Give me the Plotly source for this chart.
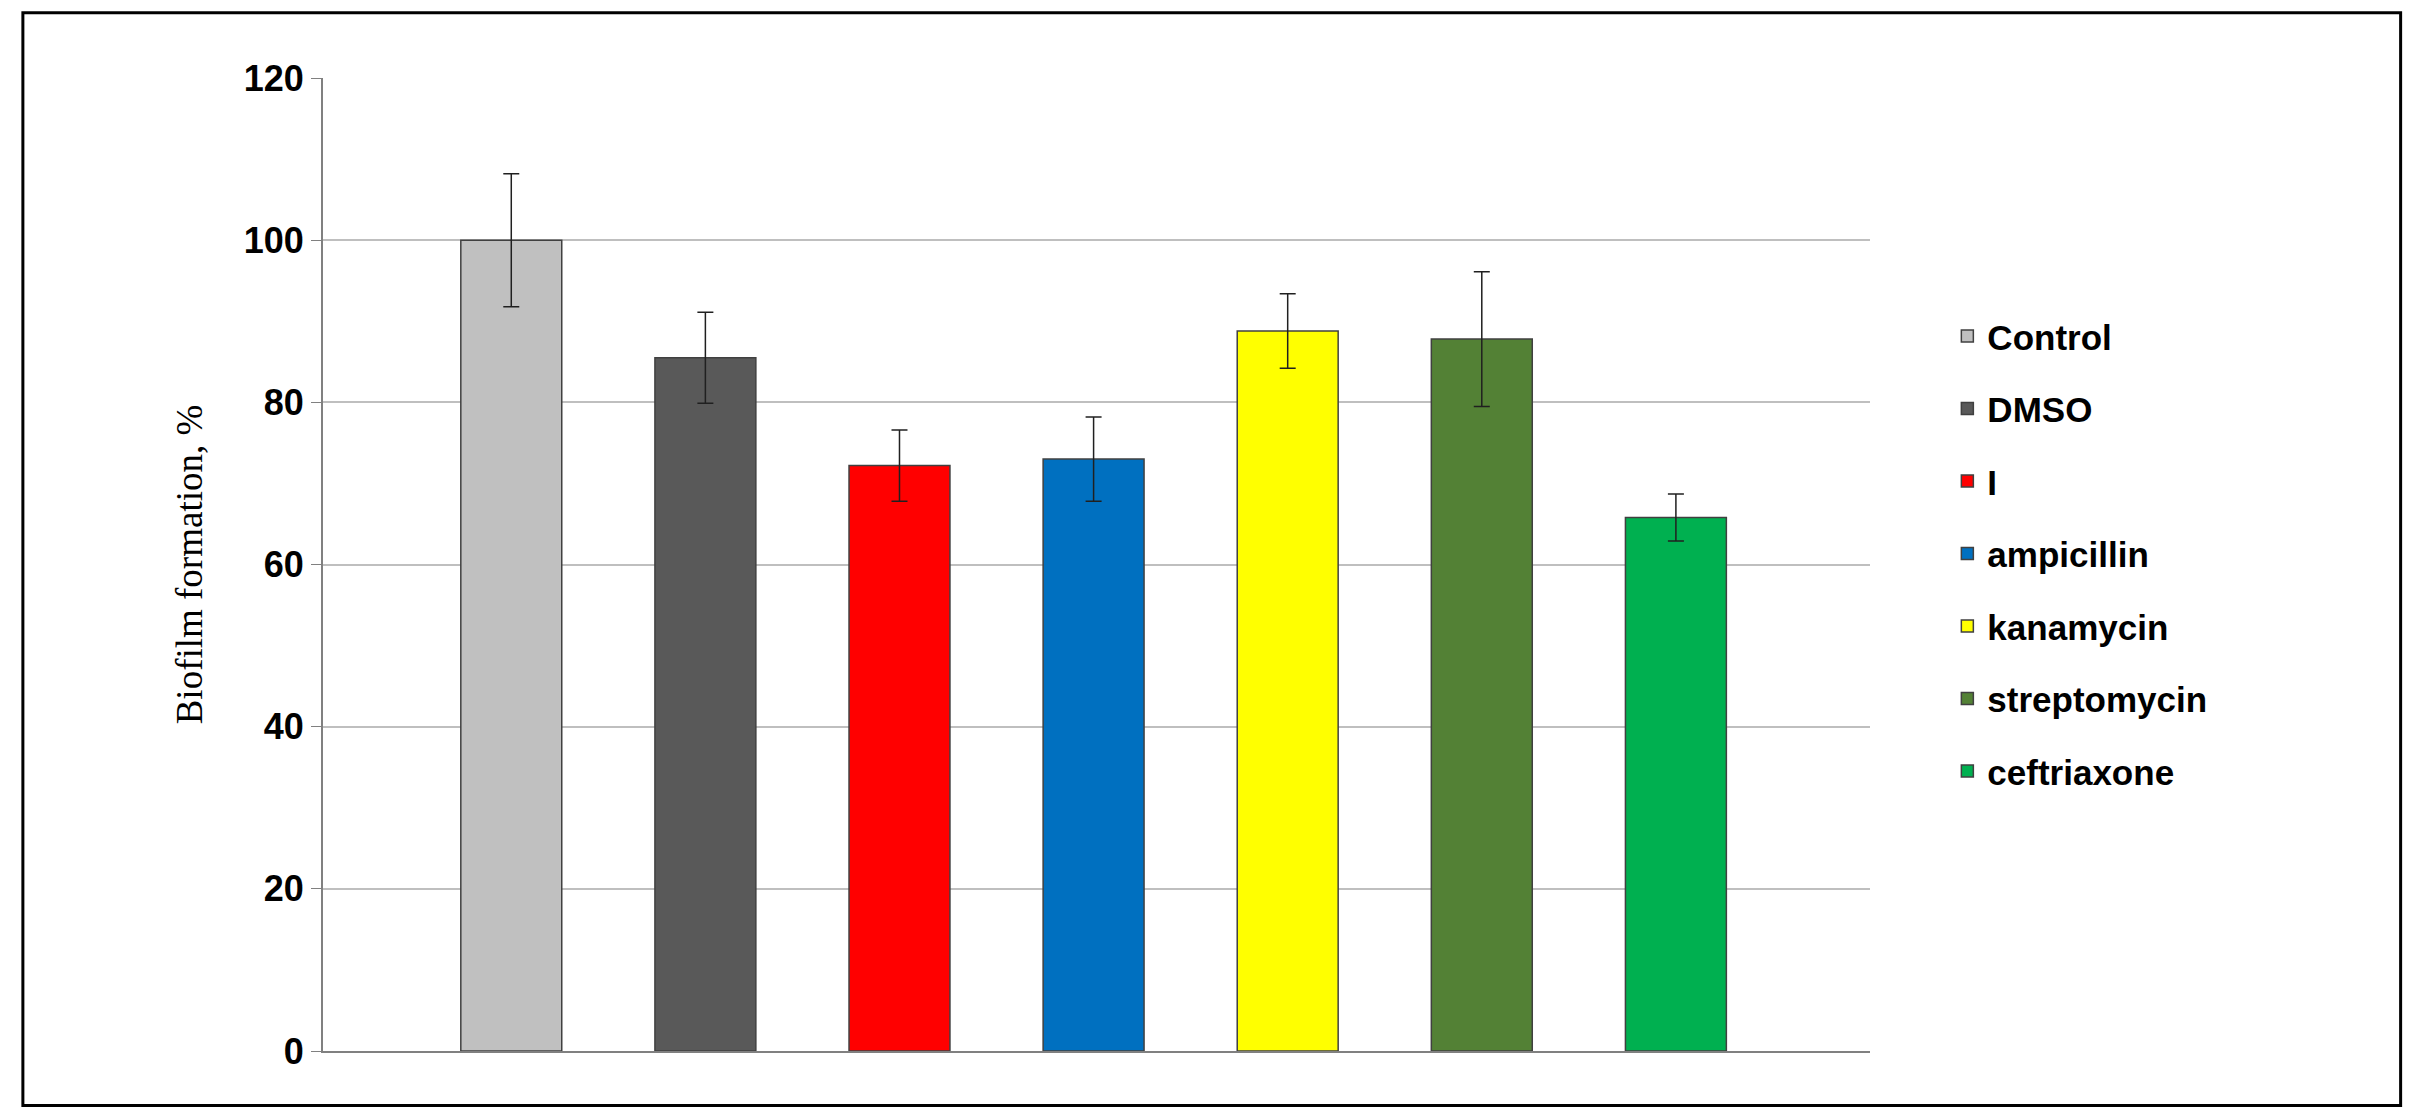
import plotly.graph_objects as go

names = ["Control", "DMSO", "I", "ampicillin", "kanamycin", "streptomycin", "ceftriaxone"]
values = [100, 85.5, 72.2, 73, 88.8, 87.8, 65.8]
errors = [8.2, 5.6, 4.4, 5.2, 4.6, 8.3, 2.9]
colors = ["#c0c0c0", "#595959", "#ff0000", "#0070c0", "#ffff00", "#538135", "#00b050"]

fig = go.Figure()
for i, (n, v, e, c) in enumerate(zip(names, values, errors, colors)):
    fig.add_trace(go.Bar(
        x=[i], y=[v], name=n, marker_color=c, width=0.52,
        marker_line=dict(color="#404040", width=1.5),
        error_y=dict(type="data", array=[e], color="#202020", thickness=1.5, width=8),
        legendgroup=n,
    ))

fig.add_shape(type="rect", xref="paper", yref="paper",
              x0=-0.194, x1=1.343, y0=-0.056, y1=1.067,
              line=dict(color="black", width=3))

fig.update_layout(
    width=2413, height=1115,
    margin=dict(l=315, r=551, t=70, b=72),
    plot_bgcolor="white", paper_bgcolor="white",
    font=dict(family="Liberation Sans", color="black"),
    showlegend=True,
    legend=dict(x=1.05, y=0.765, xanchor="left", yanchor="top",
                font=dict(size=35, family="Liberation Sans", weight="bold"),
                tracegroupgap=24),
    xaxis=dict(range=[-0.97, 7.0], showticklabels=False, showgrid=False,
               showline=True, linecolor="#808080", linewidth=2, zeroline=False),
    yaxis=dict(range=[0, 120], dtick=20, showgrid=True, gridcolor="#bfbfbf", gridwidth=2,
               showline=True, linecolor="#808080", linewidth=2,
               ticks="outside", ticklen=10, tickcolor="#808080",
               tickfont=dict(size=36, family="Liberation Sans", weight="bold"),
               title=dict(text="Biofilm formation, %", font=dict(size=37, family="Liberation Sans Narrow"),
                          standoff=30),
               zeroline=False),
)

fig.write_html("out.html")
